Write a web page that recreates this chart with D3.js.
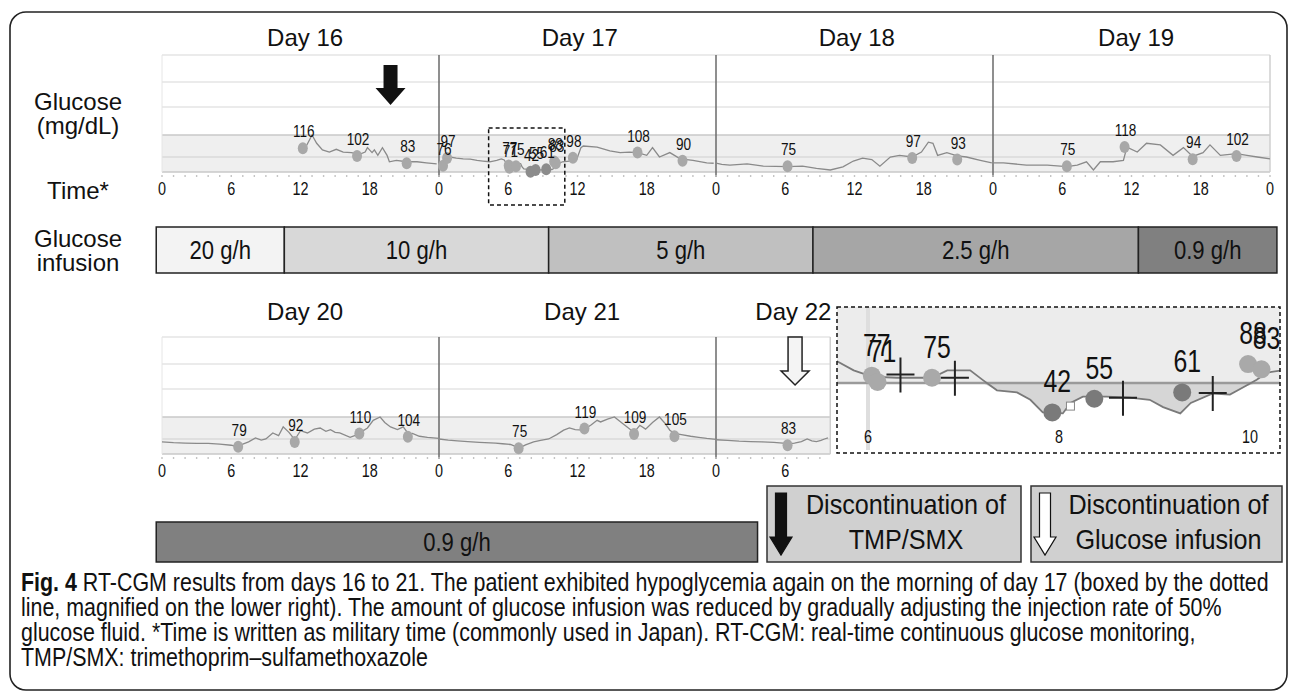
<!DOCTYPE html>
<html>
<head>
<meta charset="utf-8">
<title>RT-CGM days 16-22</title>
<script src="https://cdn.jsdelivr.net/npm/d3@7"></script>
<style>
  body { margin: 0; background: #fff; }
  text { font-family: "Liberation Sans", Arial, sans-serif; fill: #111; }
</style>
</head>
<body>
<svg id="fig" width="1292" height="695"></svg>
<script>
// ---- values ----
const tickHours = [0, 6, 12, 18];
const topDays = ["Day 16", "Day 17", "Day 18", "Day 19"];
const bottomDays = ["Day 20", "Day 21", "Day 22"];

// CGM trace, [hour of day, mg/dL]
const trace16 = [[12.4,116],[13.0,140],[13.4,125],[13.9,113],[14.5,109],[15.1,114],[15.7,109],[16.4,108],[17.1,105],[17.6,109],[17.8,117],[18.2,108],[18.4,113],[18.7,103],[19.1,117],[19.5,103],[19.7,87],[20.3,91],[21.2,87],[22.1,87],[22.9,84],[23.8,81]];
const trace17 = [[0.0,79],[0.3,74],[0.6,97],[0.95,100],[1.5,97],[2.1,95],[2.7,94],[3.3,91],[3.8,89],[4.4,87],[5.0,91],[5.4,95],[5.65,92],[5.85,82],[6.04,76],[6.3,75],[6.67,75],[6.83,82],[7.07,82],[7.2,73],[7.35,63],[7.56,61],[7.7,54],[7.83,42],[8.04,41],[8.12,51],[8.25,57],[8.5,57],[8.74,56],[8.95,54],[9.09,47],[9.27,41],[9.38,51],[9.61,60],[9.79,59],[9.93,66],[10.07,73],[10.18,80],[10.7,87],[11.3,89],[11.9,91],[12.3,117],[12.5,120],[13.7,118],[14.8,111],[15.7,108],[16.5,109],[17.2,108],[18.0,103],[18.5,117],[19.1,100],[20.0,108],[20.9,95],[22.0,91],[23.2,84],[23.8,83]];
const trace18 = [[0.0,83],[0.5,80],[1.2,78],[2.7,81],[4.1,75],[6.2,74],[7.5,75],[8.7,67],[9.9,55],[11.0,73],[11.9,89],[12.7,97],[13.5,93],[14.2,75],[15.1,100],[15.9,103],[17.0,100],[17.8,109],[18.4,127],[18.8,125],[19.2,103],[20.0,108],[20.9,102],[21.7,100],[22.9,91],[23.9,84]];
const trace19 = [[0.0,84],[0.9,84],[2.9,78],[4.7,78],[6.4,74],[7.3,78],[8.1,87],[8.7,55],[9.3,87],[10.4,87],[11.3,91],[11.6,118],[12.5,109],[13.3,125],[14.5,122],[15.6,103],[16.5,117],[17.3,101],[18.2,108],[18.8,122],[19.7,103],[21.1,106],[22.0,103],[22.9,100],[24.0,95]];
const trace20 = [[0,92],[1,90],[2,89],[3,88],[4,88],[5,86],[6,83],[6.5,79],[7,86],[7.5,92],[8.1,102],[8.6,97],[9.0,100],[9.6,111],[10.1,106],[10.5,122],[11.0,112],[11.5,98],[12.0,115],[12.6,111],[13.2,118],[13.7,120],[14.2,114],[14.6,117],[15.0,112],[15.4,111],[16.3,103],[16.8,107],[17.2,112],[17.8,120],[18.3,134],[18.9,140],[19.3,130],[19.8,122],[20.4,117],[20.9,122],[21.4,108],[21.7,110],[22.3,105],[23.0,103],[24.0,101]];
const trace21 = [[0,100],[0.8,97],[1.6,95],[2.5,93],[3.5,91],[4.9,89],[5.5,87],[6.2,85],[6.6,80],[7.0,76],[7.5,84],[8.2,92],[8.8,96],[9.5,100],[10.2,108],[10.8,116],[11.3,120],[11.8,117],[12.5,116],[13.2,126],[13.7,134],[14.0,131],[14.6,136],[15.2,140],[15.8,130],[16.3,122],[16.9,112],[17.4,125],[17.9,118],[18.5,130],[19.1,140],[19.6,128],[20.0,116],[20.4,110],[21.0,108],[21.8,105],[22.5,103],[23.2,101],[24,99]];
const trace22 = [[0,98],[1,96],[2,94],[3,93],[4,92],[5,91],[5.8,89],[6.2,86],[6.8,89],[7.4,93],[7.9,100],[8.3,95],[8.7,93],[9.1,96],[9.4,100],[9.7,102]];

// labelled readings, [hour of day, mg/dL]
const marks16 = [[12.2,116],[16.9,102],[21.2,83]];
const marks17 = [[0.35,76],[0.7,97],[6.04,77],[6.1,71],[6.67,75],[7.93,42],[8.37,55],[9.29,61],[9.98,88],[10.12,83],[11.6,98],[17.2,108],[21.1,90]];
const marks18 = [[6.2,75],[17.0,97],[20.9,93]];
const marks19 = [[6.4,75],[11.4,118],[17.3,94],[21.1,102]];
const marks20 = [[6.6,79],[11.5,92],[17.1,110],[21.3,104]];
const marks21 = [[6.9,75],[12.6,119],[16.9,109],[20.4,105]];
const marks22 = [[6.2,83]];

// event markers in the magnified window (day 17), [hour, mg/dL]
const crosses17 = [[6.34,78],[6.91,75],[8.67,56],[9.61,60.5]];
const squares17 = [[8.12,48]];

// glucose infusion, hours after day 16 00:00
const infusionRates = ["20 g/h", "10 g/h", "5 g/h", "2.5 g/h", "0.9 g/h"];
const infusionFrom = [-0.5, 10.6, 33.5, 56.4, 84.6];
const infusionTo = [10.6, 33.5, 56.4, 84.6, 96.6];
// hours after day 20 00:00
const lateRate = "0.9 g/h";
const lateFrom = -0.5, lateTo = 51.6;

const tmpSmxStop = 19.8;       // day 16, hour
const glucoseStop = 48 + 6.85; // hours after day 20 00:00
const boxFrom = 4.3, boxTo = 10.9; // dotted window, day 17

const captionLines = [
  "RT-CGM results from days 16 to 21. The patient exhibited hypoglycemia again on the morning of day 17 (boxed by the dotted",
  "line, magnified on the lower right). The amount of glucose infusion was reduced by gradually adjusting the injection rate of 50%",
  "glucose fluid. *Time is written as military time (commonly used in Japan). RT-CGM: real-time continuous glucose monitoring,",
  "TMP/SMX: trimethoprim\u2013sulfamethoxazole"
];

// ---- drawing ----
const svg = d3.select("#fig");
const squeeze = 0.8; // condensed look of the printed labels

// condensed text: place with translate, squeeze horizontally
function narrow(sel, fx, fy, k = squeeze) {
  return sel.attr("x", 0).attr("y", 0)
    .attr("transform", (d, i) => `translate(${fx(d, i)},${fy(d, i)}) scale(${k},1)`);
}

svg.append("rect")
  .attr("x", 10).attr("y", 12).attr("width", 1277).attr("height", 678).attr("rx", 16)
  .attr("fill", "none").attr("stroke", "#222").attr("stroke-width", 1.6);

const x = d3.scaleLinear().domain([0, 96]).range([162, 1270]);
const gridMg = [40, 70, 100, 140, 200, 260, 320];
const gridPx = [172, 168, 157, 135, 107, 82, 55];

function downArrow(cx, top, tip, shaftW, headW, headH) {
  const hy = tip - headH;
  return `M${cx - shaftW / 2},${top}H${cx + shaftW / 2}V${hy}H${cx + headW / 2}L${cx},${tip}L${cx - headW / 2},${hy}H${cx - shaftW / 2}Z`;
}

function panel(days, traces, marks, dy, hoursShown, labelY, labelHours) {
  const y = d3.scaleLinear().domain(gridMg).range(gridPx.map(v => v + dy));
  const g = svg.append("g");
  const x0 = x(0), x1 = x(hoursShown);

  g.append("rect").attr("x", x0).attr("width", x1 - x0)
    .attr("y", y(140)).attr("height", y(40) - y(140)).attr("fill", "#efefef");

  g.selectAll(".grid").data([320, 260, 200]).join("line")
    .attr("x1", x0).attr("x2", x1).attr("y1", d => y(d)).attr("y2", d => y(d))
    .attr("stroke", "#e4e4e4").attr("stroke-width", 1.5);
  g.selectAll(".band").data([140, 100, 40]).join("line")
    .attr("x1", x0).attr("x2", x1).attr("y1", d => y(d)).attr("y2", d => y(d))
    .attr("stroke", d => d === 100 ? "#dadada" : "#c8c8c8").attr("stroke-width", 1.5);

  g.append("line").attr("x1", x0).attr("x2", x0).attr("y1", y(320)).attr("y2", y(40))
    .attr("stroke", "#e6e6e6");
  g.append("line").attr("x1", x1).attr("x2", x1).attr("y1", y(320)).attr("y2", y(40))
    .attr("stroke", "#cfcfcf").attr("stroke-width", 1.5);

  const dividers = d3.range(24, hoursShown, 24);
  g.selectAll(".div").data(dividers).join("line")
    .attr("x1", d => x(d)).attr("x2", d => x(d))
    .attr("y1", y(320)).attr("y2", y(40) + 5)
    .attr("stroke", "#6a6a6a").attr("stroke-width", 1.5);

  // hour dots under the plot
  g.selectAll(".hr").data(d3.range(0, hoursShown + 0.01, 1)).join("rect")
    .attr("x", d => x(d) - 0.7).attr("y", y(40) + 3).attr("width", 1.4).attr("height", 2)
    .attr("fill", "#c4c4c4");

  const ticks = d3.range(0, hoursShown + 0.01, 6);
  narrow(g.selectAll(".tk").data(ticks).join("text"), d => x(d), () => y(40) + 23)
    .attr("text-anchor", "middle").attr("font-size", 18).attr("fill", "#222")
    .text(d => tickHours[(d / 6) % 4]);

  const line = d3.line().x(d => x(d[0])).y(d => y(d[1])).curve(d3.curveLinear);
  traces.forEach((tr, i) => {
    g.append("path")
      .datum(tr.map(p => [p[0] + 24 * i, p[1]]))
      .attr("fill", "none").attr("stroke", "#8a8a8a").attr("stroke-width", 1.3)
      .attr("d", line);
  });

  const pts = marks.flatMap((m, i) => m.map(p => [p[0] + 24 * i, p[1]]));
  g.selectAll(".pt").data(pts).join("ellipse")
    .attr("cx", d => x(d[0])).attr("cy", d => y(d[1]))
    .attr("rx", 5).attr("ry", 6)
    .attr("fill", d => d[1] < 70 ? "#8c8c8c" : "#a8a8a8");
  narrow(g.selectAll(".pl").data(pts).join("text"), d => x(d[0]) + 1, d => y(d[1]) - 11)
    .attr("text-anchor", "middle").attr("font-size", 17).attr("fill", "#333")
    .text(d => d[1]);

  g.selectAll(".day").data(days).join("text")
    .attr("x", (d, i) => x(labelHours[i])).attr("y", labelY)
    .attr("text-anchor", "middle").attr("font-size", 24)
    .text(d => d);
  return y;
}

panel(topDays, [trace16, trace17, trace18, trace19],
  [marks16, marks17, marks18, marks19], 0, 96, 46, [12.4, 36.2, 60.2, 84.4]);
panel(bottomDays, [trace20, trace21, trace22],
  [marks20, marks21, marks22], 282, 57.9, 320, [12.4, 36.4, 54.7]);

// dotted window on day 17
svg.append("rect")
  .attr("x", x(24 + boxFrom)).attr("y", 128)
  .attr("width", x(24 + boxTo) - x(24 + boxFrom)).attr("height", 77)
  .attr("fill", "none").attr("stroke", "#111").attr("stroke-width", 1.5)
  .attr("stroke-dasharray", "4,3");

// arrows
svg.append("path").attr("d", downArrow(x(tmpSmxStop), 65, 105, 14, 30, 17)).attr("fill", "#111");
svg.append("path").attr("d", downArrow(x(glucoseStop), 337, 385, 14, 28, 14))
  .attr("fill", "#f4f4f4").attr("stroke", "#222").attr("stroke-width", 1.5);

// left labels
[["Glucose", 110], ["(mg/dL)", 134], ["Time*", 199], ["Glucose", 247], ["infusion", 271]]
  .forEach(([t, yy]) => svg.append("text").attr("x", 78).attr("y", yy)
    .attr("text-anchor", "middle").attr("font-size", 24).text(t));

// infusion bar
const shade = d3.scaleOrdinal().domain(infusionRates)
  .range(["#f3f3f3", "#d8d8d8", "#c0c0c0", "#a6a6a6", "#808080"]);
const bar = svg.append("g");
bar.selectAll("rect").data(infusionRates).join("rect")
  .attr("x", (d, i) => x(infusionFrom[i])).attr("y", 227)
  .attr("width", (d, i) => x(infusionTo[i]) - x(infusionFrom[i])).attr("height", 46)
  .attr("fill", d => shade(d)).attr("stroke", "#222").attr("stroke-width", 1.5);
narrow(bar.selectAll("text").data(infusionRates).join("text"),
  (d, i) => (x(infusionFrom[i]) + x(infusionTo[i])) / 2, () => 259, 0.85)
  .attr("text-anchor", "middle").attr("font-size", 26).text(d => d);

svg.append("rect").attr("x", x(lateFrom)).attr("y", 522)
  .attr("width", x(lateTo) - x(lateFrom)).attr("height", 40)
  .attr("fill", shade(lateRate)).attr("stroke", "#222").attr("stroke-width", 1.5);
narrow(svg.append("text").datum(lateRate), () => (x(lateFrom) + x(lateTo)) / 2, () => 551, 0.85)
  .attr("text-anchor", "middle").attr("font-size", 26).text(lateRate);

// magnified window
const mx = d3.scaleLinear().domain([6, 10]).range([868, 1250]);
const my = d3.scaleLinear().domain([70, 40]).range([383, 414.5]);
const mag = svg.append("g");
svg.append("clipPath").attr("id", "magclip").append("rect")
  .attr("x", 837).attr("y", 307).attr("width", 443).attr("height", 146);
const inner = mag.append("g").attr("clip-path", "url(#magclip)");
inner.append("rect").attr("x", 837).attr("y", 307).attr("width", 443).attr("height", my(70) - 307)
  .attr("fill", "#ececec");
inner.append("line").attr("x1", mx(6)).attr("x2", mx(6)).attr("y1", 307).attr("y2", 450)
  .attr("stroke", "#dedede").attr("stroke-width", 4);
const seg = trace17.filter(p => p[0] >= 5.4 && p[0] <= 10.8);
inner.append("path").datum(seg)
  .attr("fill", "#d6d6d6")
  .attr("d", d3.area().x(d => mx(d[0])).y0(my(70)).y1(d => my(Math.min(d[1], 70))));
inner.append("line").attr("x1", 837).attr("x2", 1280).attr("y1", my(70)).attr("y2", my(70))
  .attr("stroke", "#9a9a9a").attr("stroke-width", 2.5);
inner.append("path").datum(seg)
  .attr("fill", "none").attr("stroke", "#7a7a7a").attr("stroke-width", 1.8)
  .attr("d", d3.line().x(d => mx(d[0])).y(d => my(d[1])));
const magPts = marks17.filter(p => p[0] >= 5.5 && p[0] <= 10.3);
inner.selectAll(".mp").data(magPts).join("circle")
  .attr("cx", d => mx(d[0])).attr("cy", d => my(d[1])).attr("r", 9)
  .attr("fill", d => d[1] < 70 ? "#7a7a7a" : "#a9a9a9");
inner.selectAll(".cr").data(crosses17).join("path")
  .attr("d", d => `M${mx(d[0]) - 14},${my(d[1])}h28M${mx(d[0])},${my(d[1]) - 17}v35`)
  .attr("stroke", "#222").attr("stroke-width", 2);
inner.selectAll(".sq").data(squares17).join("rect")
  .attr("x", d => mx(d[0]) - 4).attr("y", d => my(d[1]) - 4).attr("width", 8).attr("height", 8)
  .attr("fill", "#fff").attr("stroke", "#888");
narrow(inner.selectAll(".ml").data(magPts).join("text"), d => mx(d[0]) + 5, d => my(d[1]) - 20)
  .attr("text-anchor", "middle").attr("font-size", 31).attr("fill", "#333")
  .text(d => d[1]);
narrow(inner.selectAll(".mt").data([6, 8, 10]).join("text"), d => mx(d), () => 443)
  .attr("text-anchor", "middle").attr("font-size", 18).attr("fill", "#222")
  .text(d => d);
mag.append("rect").attr("x", 837).attr("y", 307).attr("width", 443).attr("height", 146)
  .attr("fill", "none").attr("stroke", "#111").attr("stroke-width", 1.5)
  .attr("stroke-dasharray", "4,3");

// legend boxes
function legendBox(bx, w, arrowFill, line1, line2) {
  const g = svg.append("g");
  g.append("rect").attr("x", bx).attr("y", 486).attr("width", w).attr("height", 76)
    .attr("fill", "#d0d0d0").attr("stroke", "#333").attr("stroke-width", 1.5);
  g.append("path").attr("d", downArrow(bx + 14, 493, 555, 11, 22, 18))
    .attr("fill", arrowFill).attr("stroke", "#111").attr("stroke-width", 1.2);
  narrow(g.append("text").datum(line1), () => bx + w / 2 + 12, () => 514, 0.9)
    .attr("text-anchor", "middle").attr("font-size", 28).text(line1);
  narrow(g.append("text").datum(line2), () => bx + w / 2 + 12, () => 549, 0.9)
    .attr("text-anchor", "middle").attr("font-size", 28).text(line2);
}
legendBox(767, 254, "#111", "Discontinuation of", "TMP/SMX");
legendBox(1031, 251, "#fff", "Discontinuation of", "Glucose infusion");

// caption, condensed and fitted to the printed line width
const capK = 0.86;
const cap = svg.append("g");
const capY = [591, 616, 641, 666];
captionLines.forEach((t, i) => {
  const tx = cap.append("text").attr("transform", `translate(21,${capY[i]}) scale(${capK},1)`)
    .attr("font-size", 20).attr("fill", "#222");
  if (i === 0) tx.append("tspan").attr("font-weight", "bold").text("Fig. 4 ");
  tx.append("tspan").text(t);
});
const first = cap.select("text").node();
const k = 1248 / (first.getComputedTextLength() * capK);
cap.selectAll("text").attr("font-size", 20 * k);
</script>
</body>
</html>
